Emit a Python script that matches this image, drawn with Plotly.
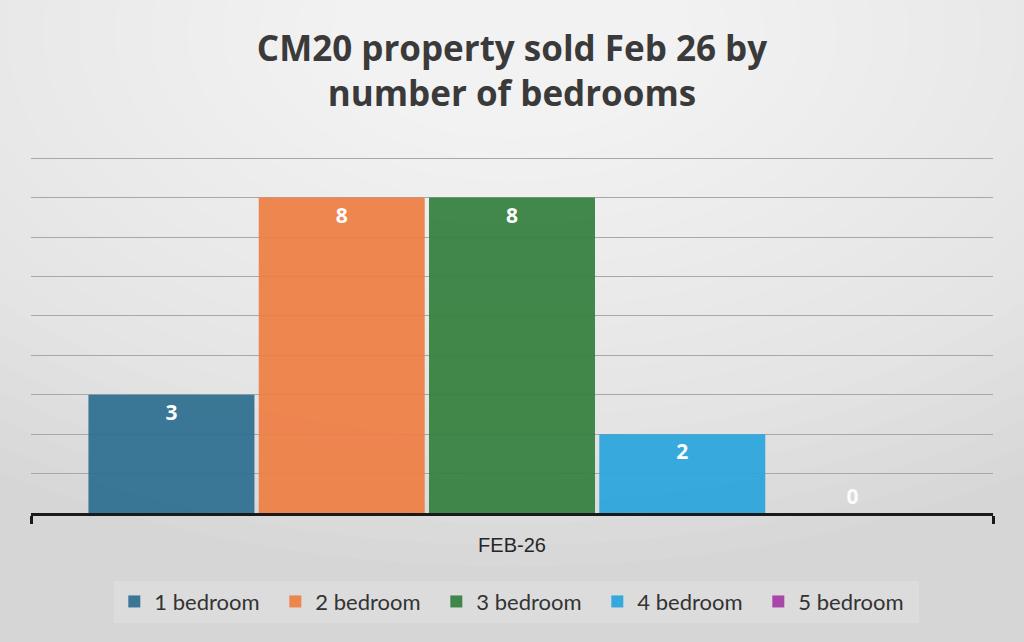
import plotly.graph_objects as go

# data
month = ["FEB-26"]
bedrooms = ["1 bedroom", "2 bedroom", "3 bedroom", "4 bedroom", "5 bedroom"]
sold = [3, 8, 8, 2, 0]
colours = ["#2e6f90", "#ef7f45", "#35803f", "#2ba5dd", "#a53ca5"]

fig = go.Figure()
for name, val, col in zip(bedrooms, sold, colours):
    fig.add_trace(go.Bar(
        x=month, y=[val], name=name,
        marker=dict(color=col, line=dict(width=0)),
        opacity=0.93,
        text=[val], texttemplate="%{text}",
        textposition="inside" if val > 0 else "outside",
        insidetextanchor="end",
        textfont=dict(family="Open Sans", size=21, color="white", weight="bold"),
        cliponaxis=False,
    ))

# soft radial background, white at the top centre fading to grey
shapes = []
for i in range(24):
    r = 1.25 - i * 0.05
    shapes.append(dict(
        type="circle", xref="paper", yref="paper", layer="below",
        x0=0.5 - r * 0.75, x1=0.5 + r * 0.75, y0=1.35 - r * 1.2, y1=1.35 + r * 1.2,
        fillcolor="white", opacity=0.07, line=dict(width=0),
    ))

fig.update_layout(
    width=1024, height=642,
    margin=dict(l=31, r=31, t=157, b=129),
    paper_bgcolor="#d6d6d6",
    plot_bgcolor="rgba(0,0,0,0)",
    shapes=shapes,
    title=dict(
        text="CM20 property sold Feb 26 by<br>number of bedrooms",
        x=0.5, xanchor="center", yref="container", y=0.905, yanchor="middle",
        font=dict(family="Open Sans", size=35, color="#3a3a3a", weight="bold"),
    ),
    barmode="group", bargap=0.115, bargroupgap=0.025,
    xaxis=dict(
        showline=True, linecolor="#1a1a1a", linewidth=3,
        ticks="outside", tickson="boundaries", ticklen=8, tickwidth=3,
        tickcolor="#1a1a1a", ticklabelstandoff=12,
        tickfont=dict(family="Liberation Sans", size=20, color="#262626"),
    ),
    yaxis=dict(
        range=[0, 9.03], dtick=1, showticklabels=False,
        showgrid=True, gridcolor="#a8a8a8", gridwidth=1.3,
        zeroline=False,
    ),
    legend=dict(
        orientation="h", x=0.505, xanchor="center", y=-0.19, yanchor="top",
        bgcolor="#dcdcdc", entrywidth=116,
        font=dict(family="Lato", size=22, color="#333333"),
    ),
)

# drop the browser's default page margin so the chart fills the window
fig.write_html("out.html", config={"displayModeBar": False},
               post_script="document.body.style.margin='0';")
